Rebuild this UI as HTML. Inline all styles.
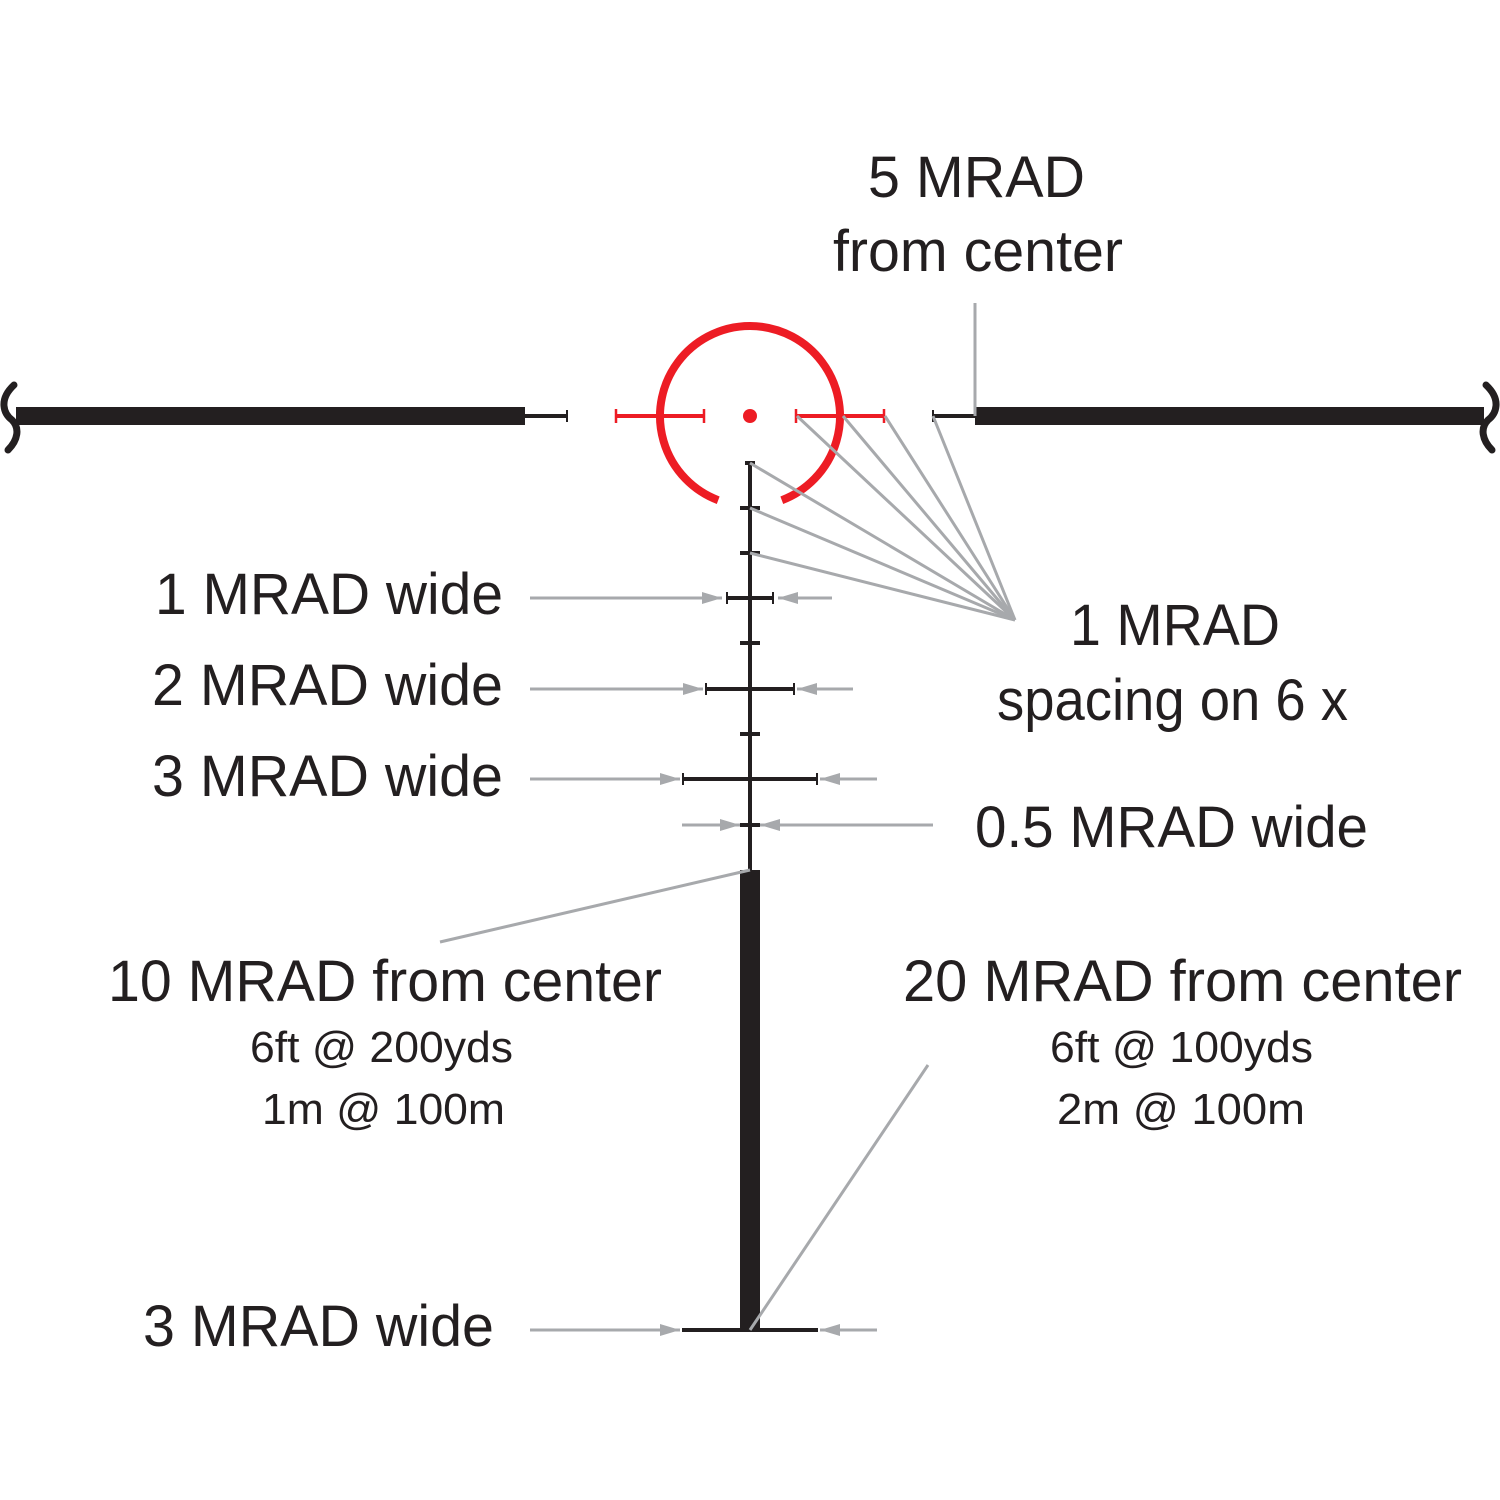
<!DOCTYPE html>
<html><head><meta charset="utf-8"><style>html,body{margin:0;padding:0;background:#fff}svg{display:block}</style></head>
<body>
<svg width="1500" height="1500" viewBox="0 0 1500 1500" xmlns="http://www.w3.org/2000/svg">
<defs>
<marker id="ah" viewBox="0 0 20 12" refX="20" refY="6" markerWidth="20" markerHeight="12" markerUnits="userSpaceOnUse" orient="auto">
<path d="M0,0 L20,6 L0,12 Z" fill="#a7a9ac"/>
</marker>
</defs>
<g fill="#231f20">
<rect x="16" y="407" width="509" height="18"/>
<rect x="975" y="407" width="509" height="18"/>
<rect x="740" y="870" width="20" height="460"/>
</g>
<g stroke="#231f20" fill="none">
<path d="M14,385 C-2,400 4,414 12,420 C20,428 18,440 8,450" stroke-width="7" stroke-linecap="round"/>
<path d="M1486,385 C1502,400 1496,414 1488,420 C1480,428 1482,440 1492,450" stroke-width="7" stroke-linecap="round"/>
<line x1="525" y1="416" x2="567" y2="416" stroke-width="4"/>
<line x1="567" y1="410" x2="567" y2="422" stroke-width="2"/>
<line x1="933" y1="416" x2="975" y2="416" stroke-width="4"/>
<line x1="933" y1="410" x2="933" y2="422" stroke-width="2"/>
<line x1="750" y1="463" x2="750" y2="870" stroke-width="4"/>
<g stroke-width="4">
<line x1="745" y1="463" x2="755" y2="463"/>
<line x1="740" y1="508" x2="760" y2="508"/>
<line x1="740" y1="553" x2="760" y2="553"/>
<line x1="726" y1="598" x2="774" y2="598"/>
<line x1="740" y1="643" x2="760" y2="643"/>
<line x1="705" y1="689" x2="795" y2="689"/>
<line x1="740" y1="734" x2="760" y2="734"/>
<line x1="682" y1="779" x2="818" y2="779"/>
<line x1="740" y1="825" x2="760" y2="825"/>
<line x1="682" y1="1330" x2="818" y2="1330"/>
</g>
<g stroke-width="2">
<line x1="727" y1="592" x2="727" y2="604"/><line x1="773" y1="592" x2="773" y2="604"/>
<line x1="706" y1="683" x2="706" y2="695"/><line x1="794" y1="683" x2="794" y2="695"/>
<line x1="683" y1="773" x2="683" y2="785"/><line x1="817" y1="773" x2="817" y2="785"/>
</g>
</g>
<g stroke="#ed1c24" fill="none">
<path d="M718.2,500.2 A90,90 0 1 1 781.8,500.2" stroke-width="8"/>
<line x1="615" y1="416" x2="705" y2="416" stroke-width="4"/>
<line x1="795" y1="416" x2="885" y2="416" stroke-width="4"/>
<line x1="616" y1="409" x2="616" y2="423" stroke-width="2.5"/>
<line x1="704" y1="409" x2="704" y2="423" stroke-width="2.5"/>
<line x1="796" y1="409" x2="796" y2="423" stroke-width="2.5"/>
<line x1="884" y1="409" x2="884" y2="423" stroke-width="2.5"/>
</g>
<circle cx="750" cy="416" r="7" fill="#ed1c24"/>
<g stroke="#a7a9ac" stroke-width="3" fill="none">
<line x1="750" y1="463" x2="1015" y2="620"/>
<line x1="750" y1="508" x2="1015" y2="620"/>
<line x1="750" y1="553" x2="1015" y2="620"/>
<line x1="797" y1="416" x2="1015" y2="620"/>
<line x1="843" y1="416" x2="1015" y2="620"/>
<line x1="885" y1="416" x2="1015" y2="620"/>
<line x1="933" y1="416" x2="1015" y2="620"/>
<line x1="975" y1="303" x2="975" y2="416"/>
<line x1="440" y1="942" x2="750" y2="870"/>
<line x1="928" y1="1065" x2="750" y2="1330"/>
<g marker-end="url(#ah)">
<line x1="530" y1="598" x2="722" y2="598"/>
<line x1="832" y1="598" x2="778" y2="598"/>
<line x1="530" y1="689" x2="703" y2="689"/>
<line x1="853" y1="689" x2="797" y2="689"/>
<line x1="530" y1="779" x2="680" y2="779"/>
<line x1="877" y1="779" x2="820" y2="779"/>
<line x1="682" y1="825" x2="740" y2="825"/>
<line x1="933" y1="825" x2="760" y2="825"/>
<line x1="530" y1="1330" x2="680" y2="1330"/>
<line x1="877" y1="1330" x2="820" y2="1330"/>
</g>
</g>
<g font-family="Liberation Sans, sans-serif" fill="#231f20" font-size="58" lengthAdjust="spacingAndGlyphs">
<text x="868" y="197" textLength="217" lengthAdjust="spacingAndGlyphs">5 MRAD</text>
<text x="833" y="271" textLength="290" lengthAdjust="spacingAndGlyphs">from center</text>
<text x="155" y="614" textLength="348" lengthAdjust="spacingAndGlyphs">1 MRAD wide</text>
<text x="152" y="705" textLength="351" lengthAdjust="spacingAndGlyphs">2 MRAD wide</text>
<text x="152" y="796" textLength="351" lengthAdjust="spacingAndGlyphs">3 MRAD wide</text>
<text x="1070" y="645" textLength="210" lengthAdjust="spacingAndGlyphs">1 MRAD</text>
<text x="997" y="720" textLength="351" lengthAdjust="spacingAndGlyphs">spacing on 6 x</text>
<text x="975" y="847" textLength="393" lengthAdjust="spacingAndGlyphs">0.5 MRAD wide</text>
<text x="108" y="1001" textLength="554" lengthAdjust="spacingAndGlyphs">10 MRAD from center</text>
<text x="903" y="1001" textLength="559" lengthAdjust="spacingAndGlyphs">20 MRAD from center</text>
<text x="143" y="1346" textLength="351" lengthAdjust="spacingAndGlyphs">3 MRAD wide</text>
<g font-size="44">
<text x="250" y="1062" textLength="263" lengthAdjust="spacingAndGlyphs">6ft @ 200yds</text>
<text x="262" y="1124" textLength="243" lengthAdjust="spacingAndGlyphs">1m @ 100m</text>
<text x="1050" y="1062" textLength="263" lengthAdjust="spacingAndGlyphs">6ft @ 100yds</text>
<text x="1057" y="1124" textLength="248" lengthAdjust="spacingAndGlyphs">2m @ 100m</text>
</g>
</g>
</svg>
</body></html>
